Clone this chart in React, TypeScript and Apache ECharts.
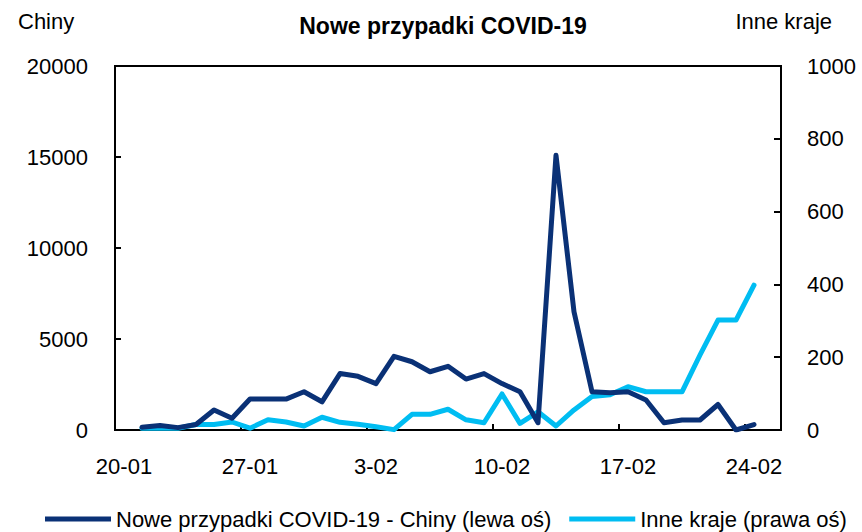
import React, { useEffect, useRef } from "react";
import * as echarts from "echarts";

const categories: string[] = [
  "20-01", "21-01", "22-01", "23-01", "24-01", "25-01", "26-01",
  "27-01", "28-01", "29-01", "30-01", "31-01", "1-02", "2-02",
  "3-02", "4-02", "5-02", "6-02", "7-02", "8-02", "9-02",
  "10-02", "11-02", "12-02", "13-02", "14-02", "15-02", "16-02",
  "17-02", "18-02", "19-02", "20-02", "21-02", "22-02", "23-02",
  "24-02", "25-02",
];

const chinaCases: (number | null)[] = [
  null, 150, 250, 130, 300, 1100, 650,
  1700, 1700, 1700, 2100, 1550, 3100, 2950,
  2550, 4050, 3750, 3200, 3500, 2800, 3100,
  2550, 2100, 400, 15100, 6500, 2100, 2050,
  2100, 1650, 400, 550, 550, 1400, 0,
  300, null,
];

const otherCases: (number | null)[] = [
  null, 5, 5, 5, 15, 15, 22,
  5, 28, 22, 11, 35, 21, 16,
  9, 1, 43, 43, 57, 28, 20,
  99, 18, 50, 11, 55, 92, 97,
  119, 105, 105, 105, 206, 302, 302,
  398, null,
];

const seriesNames = ["Nowe przypadki COVID-19 - Chiny (lewa oś)", "Inne kraje (prawa oś)"];
const titleText = "Nowe przypadki COVID-19";
const leftAxisName = "Chiny";
const rightAxisName = "Inne kraje";

const FONT = "'Liberation Sans', Arial, sans-serif";
const DARK = "#0a3176";
const LIGHT = "#00bdf2";

export default function App() {
  const ref = useRef<HTMLDivElement>(null);
  useEffect(() => {
    if (!ref.current) return;
    const chart = echarts.init(ref.current, undefined, { renderer: "svg" });
    const axisLabelStyle = {
      color: "#000",
      fontFamily: FONT,
      fontSize: 22,
      formatter: (v: number | string) => String(v),
    };
    chart.setOption({
      animation: false,
      backgroundColor: "#fff",
      title: {
        text: titleText,
        left: 438,
        textAlign: "center",
        top: 9,
        textStyle: { fontFamily: FONT, fontSize: 23, fontWeight: "bold", color: "#000" },
      },
      graphic: [
        { type: "text", left: 18, top: 10, style: { text: leftAxisName, fontFamily: FONT, fontSize: 22, fill: "#000" } },
        { type: "text", right: 30, top: 10, style: { text: rightAxisName, fontFamily: FONT, fontSize: 22, fill: "#000" } },
      ],
      legend: {
        left: 40,
        top: 503,
        itemWidth: 66,
        itemHeight: 5,
        itemGap: 18,
        icon: "rect",
        textStyle: { fontFamily: FONT, fontSize: 22, color: "#000" },
        data: seriesNames,
      },
      grid: {
        left: 115,
        right: 81,
        top: 66,
        bottom: 102,
        show: true,
        borderColor: "#000",
        borderWidth: 2,
        containLabel: false,
      },
      xAxis: {
        type: "category",
        data: categories,
        boundaryGap: true,
        axisLine: { lineStyle: { color: "#000", width: 2 } },
        axisTick: { show: true, inside: true, interval: 6, length: 6, lineStyle: { color: "#000", width: 2 } },
        axisLabel: { color: "#000", fontFamily: FONT, fontSize: 22, interval: 6, margin: 25 },
        splitLine: { show: false },
      },
      yAxis: [
        {
          type: "value",
          min: 0,
          max: 20000,
          interval: 5000,
          position: "left",
          axisLine: { show: true, lineStyle: { color: "#000", width: 2 } },
          axisTick: { show: true, inside: true, length: 6, lineStyle: { color: "#000", width: 2 } },
          axisLabel: { ...axisLabelStyle, margin: 27 },
          splitLine: { show: false },
        },
        {
          type: "value",
          min: 0,
          max: 1000,
          interval: 200,
          position: "right",
          axisLine: { show: true, lineStyle: { color: "#000", width: 2 } },
          axisTick: { show: true, inside: true, length: 7, lineStyle: { color: "#000", width: 2 } },
          axisLabel: { ...axisLabelStyle, margin: 26 },
          splitLine: { show: false },
        },
      ],
      series: [
        {
          name: seriesNames[0],
          type: "line",
          yAxisIndex: 0,
          data: chinaCases,
          symbol: "none",
          lineStyle: { color: DARK, width: 5, cap: "round", join: "round" },
          itemStyle: { color: DARK },
          z: 3,
        },
        {
          name: seriesNames[1],
          type: "line",
          yAxisIndex: 1,
          data: otherCases,
          symbol: "none",
          lineStyle: { color: LIGHT, width: 5, cap: "round", join: "round" },
          itemStyle: { color: LIGHT },
          z: 2,
        },
      ],
    });
    return () => chart.dispose();
  }, []);
  return <div ref={ref} style={{ width: 862, height: 532, position: "absolute", left: 0, top: 0 }} />;
}
